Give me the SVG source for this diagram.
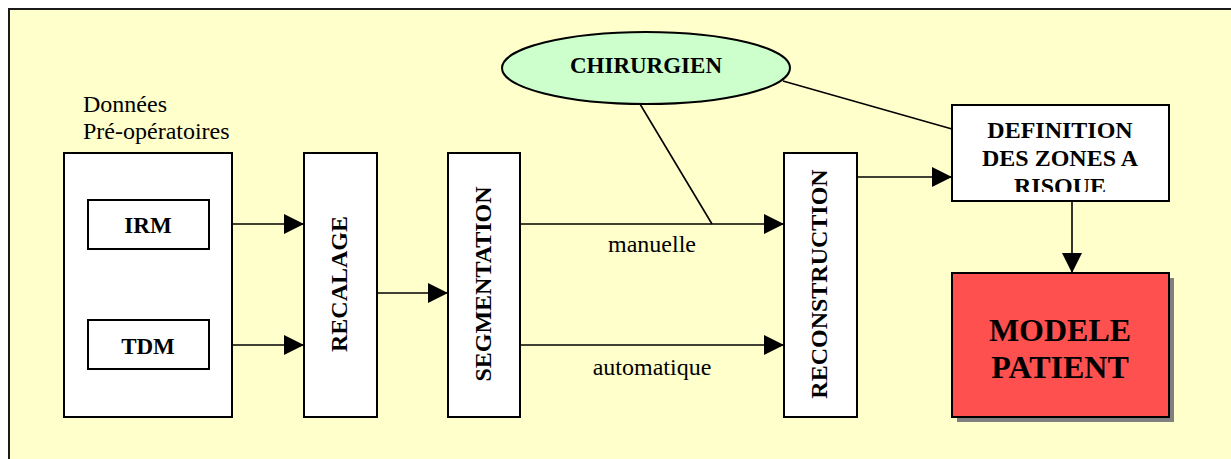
<svg xmlns="http://www.w3.org/2000/svg" width="1231" height="459" viewBox="0 0 1231 459">
<defs>
<style>
.box{fill:#ffffff;stroke:#000000;stroke-width:2}
.ln{stroke:#000000;stroke-width:1.6;fill:none}
.bold{font-family:"Liberation Serif","Times New Roman",serif;font-weight:bold;fill:#000000}
.reg{font-family:"Liberation Serif","Times New Roman",serif;font-weight:normal;fill:#000000;font-size:24px}
</style>
<marker id="ah" viewBox="0 0 20 20" markerWidth="20" markerHeight="20" refX="20" refY="10" orient="auto" markerUnits="userSpaceOnUse">
<path d="M0,0 L20,10 L0,20 Z" fill="#000000"/>
</marker>
</defs>
<rect x="0" y="0" width="1231" height="459" fill="#ffffff"/>
<rect id="frame" x="9" y="9" width="1240" height="470" fill="#ffffcc" stroke="#1a1a1a" stroke-width="2"/>

<g id="donnees">
<text class="reg" font-family="Liberation Serif, serif" x="83" y="112">Données</text>
<text class="reg" font-family="Liberation Serif, serif" x="83" y="139">Pré-opératoires</text>
<rect class="box" x="64" y="153" width="168" height="264"/>
</g>
<g id="irm">
<rect class="box" x="88" y="200" width="121" height="49"/>
<text class="bold" x="148" y="233" font-size="23" text-anchor="middle">IRM</text>
</g>
<g id="tdm">
<rect class="box" x="88" y="320" width="121" height="49"/>
<text class="bold" x="148" y="354" font-size="23" text-anchor="middle">TDM</text>
</g>
<g id="recalage">
<rect class="box" x="304" y="153" width="73" height="264"/>
<text class="bold" font-size="24" text-anchor="middle" transform="translate(347,284) rotate(-90)">RECALAGE</text>
</g>
<g id="segmentation">
<rect class="box" x="448" y="153" width="72" height="264"/>
<text class="bold" font-size="24" text-anchor="middle" transform="translate(491,284) rotate(-90)">SEGMENTATION</text>
</g>
<g id="reconstruction">
<rect class="box" x="784" y="153" width="73" height="264"/>
<text class="bold" font-size="24" text-anchor="middle" transform="translate(827,284) rotate(-90)">RECONSTRUCTION</text>
</g>
<g id="chirurgien">
<ellipse cx="646" cy="68" rx="144" ry="36" fill="#ccffcc" stroke="#000000" stroke-width="2"/>
<text class="bold" x="646" y="73" font-size="23" text-anchor="middle">CHIRURGIEN</text>
</g>
<g id="definition">
<rect class="box" x="952" y="105" width="217" height="96"/>
<svg x="952" y="105" width="217" height="87" overflow="hidden">
<text class="bold" font-size="24" text-anchor="middle"><tspan x="108" y="33">DEFINITION</tspan><tspan x="108" y="61">DES ZONES A</tspan><tspan x="108" y="89">RISQUE</tspan></text>
</svg>
</g>
<g id="modele">
<rect x="957" y="278" width="217" height="144" fill="#808080"/>
<rect x="952" y="273" width="217" height="144" fill="#ff5050" stroke="#000000" stroke-width="2"/>
<text class="bold" font-size="32" text-anchor="middle"><tspan x="1060" y="341">MODELE</tspan><tspan x="1060" y="378">PATIENT</tspan></text>
</g>

<g id="connectors">
<line class="ln" x1="232" y1="224" x2="304" y2="224" marker-end="url(#ah)"/>
<line class="ln" x1="232" y1="345" x2="304" y2="345" marker-end="url(#ah)"/>
<line class="ln" x1="377" y1="293" x2="448" y2="293" marker-end="url(#ah)"/>
<line class="ln" x1="520" y1="224" x2="784" y2="224" marker-end="url(#ah)"/>
<line class="ln" x1="520" y1="345" x2="784" y2="345" marker-end="url(#ah)"/>
<line class="ln" x1="640" y1="104" x2="712" y2="224"/>
<line class="ln" x1="783" y1="81" x2="952" y2="129"/>
<line class="ln" x1="857" y1="177" x2="952" y2="177" marker-end="url(#ah)"/>
<line class="ln" x1="1072" y1="201" x2="1072" y2="273" marker-end="url(#ah)"/>
<text class="reg" font-family="Liberation Serif, serif" x="652" y="252" text-anchor="middle">manuelle</text>
<text class="reg" font-family="Liberation Serif, serif" x="652" y="375" text-anchor="middle">automatique</text>
</g>
</svg>
